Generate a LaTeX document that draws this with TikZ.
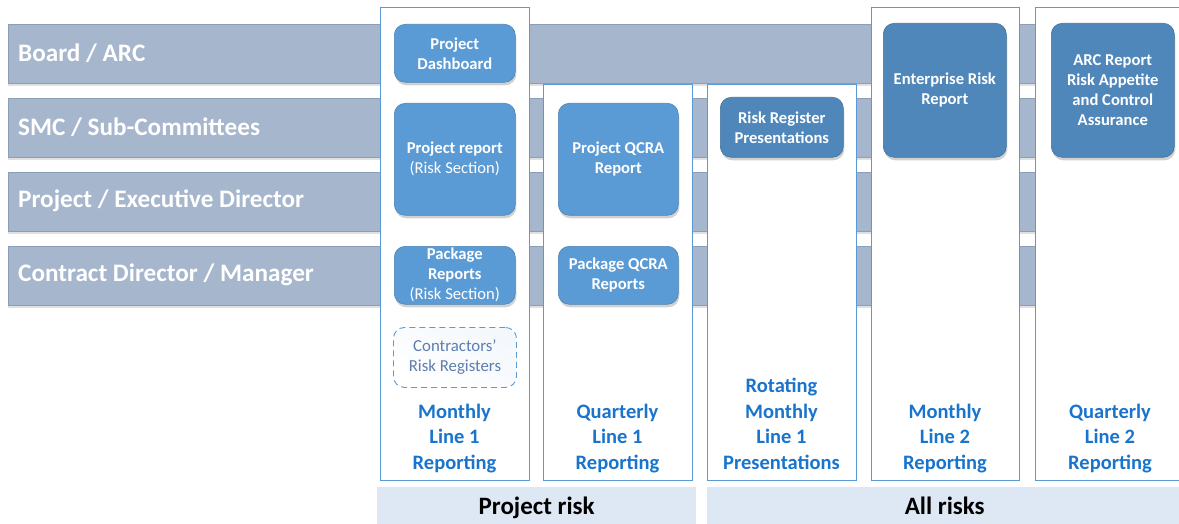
\documentclass[tikz,border=0pt]{standalone}
\usepackage{fontspec}
\setmainfont{Carlito}
\usetikzlibrary{shadows}
\definecolor{bandfill}{HTML}{A6B6CD}
\definecolor{bandline}{HTML}{8C9DB6}
\definecolor{laneline}{HTML}{5B9BD5}
\definecolor{boxlight}{HTML}{5B9BD5}
\definecolor{boxdark}{HTML}{4F87BA}
\definecolor{lanetext}{HTML}{1874CD}
\definecolor{footfill}{HTML}{DEE8F4}
\definecolor{contrtext}{HTML}{5C7DB0}

\begin{document}
\begin{tikzpicture}[
  x=1pt, y=-1pt,
  band/.style={draw=bandline, fill=bandfill, line width=0.8pt, anchor=north west, inner sep=0pt,
    minimum width=1172pt, minimum height=59pt,
    drop shadow={shadow xshift=0pt, shadow yshift=-3pt, opacity=0.12, fill=black}},
  rowlabel/.style={anchor=west, text=white, font=\fontsize{25.2}{29}\selectfont\bfseries, inner sep=0pt},
  lane/.style={draw=laneline, fill=white, line width=1pt, anchor=north west, inner sep=0pt},
  report/.style={fill=#1, draw=#1!85!black, line width=0.6pt, rounded corners=11pt, anchor=north west,
    inner sep=0pt, align=center, text=white, font=\fontsize{16.6}{20}\selectfont\bfseries,
    drop shadow={shadow xshift=1pt, shadow yshift=-3pt, opacity=0.18, fill=black}},
  register/.style={draw=laneline, dashed, dash pattern=on 6pt off 4pt, line width=0.9pt,
    top color=laneline!7, bottom color=white, shading angle=-30,
    rounded corners=11pt, anchor=north west, inner sep=0pt, align=center, text=contrtext,
    font=\fontsize{16.8}{20}\selectfont},
  lanelabel/.style={anchor=south, inner sep=0pt, align=center, text=lanetext,
    font=\fontsize{20.5}{25.5}\selectfont\bfseries},
  footer/.style={fill=footfill, anchor=north west, inner sep=0pt, text height=17pt, text depth=5pt,
    font=\fontsize{25}{29}\selectfont\bfseries}
]
\useasboundingbox (0,0) rectangle (1179,524);
\clip (0,0) rectangle (1179,524);

% management levels
\node[band] (board) at (8,24) {};
\node[band] (smc) at (8,98) {};
\node[band] (exec) at (8,172) {};
\node[band] (contract) at (8,246) {};
\node[rowlabel] at ([xshift=10pt,yshift=1pt]board.west) {Board / ARC};
\node[rowlabel] at ([xshift=10pt,yshift=1pt]smc.west) {SMC / Sub-Committees};
\node[rowlabel] at ([xshift=10pt,yshift=1pt]exec.west) {Project / Executive Director};
\node[rowlabel] at ([xshift=10pt,yshift=1pt]contract.west) {Contract Director / Manager};

% reporting lanes
\node[lane, minimum width=149pt, minimum height=473pt] (monthly1) at (380,7) {};
\node[lane, minimum width=149pt, minimum height=396pt] (quarterly1) at (543,84) {};
\node[lane, minimum width=149pt, minimum height=396pt] (rotating) at (707,84) {};
\node[lane, minimum width=148pt, minimum height=473pt] (monthly2) at (871,7) {};
\node[lane, minimum width=160pt, minimum height=473pt] (quarterly2) at (1035,7) {};

% reports
\node[report=boxlight, minimum width=121pt, minimum height=58pt] (dashboard) at (394,24) {Project\\Dashboard};
\node[report=boxlight, minimum width=121pt, minimum height=112pt] (projreport) at (394,103)
  {Project report\\{\mdseries(Risk Section)}};
\node[report=boxlight, minimum width=121pt, minimum height=58pt] (pkgreport) at (394,246)
  {Package\\Reports\\{\mdseries(Risk Section)}};
\node[register, minimum width=123pt, minimum height=60pt] (contractors) at (393,327)
  {Contractors’\\Risk Registers};
\node[report=boxlight, minimum width=120pt, minimum height=112pt] (projqcra) at (558,103)
  {Project QCRA\\Report};
\node[report=boxlight, minimum width=120pt, minimum height=58pt] (pkgqcra) at (558,246)
  {Package QCRA\\Reports};
\node[report=boxdark, minimum width=123pt, minimum height=60pt] (regpres) at (720,97)
  {Risk Register\\Presentations};
\node[report=boxdark, minimum width=123pt, minimum height=134pt] (enterprise) at (883,23)
  {Enterprise Risk\\Report};
\node[report=boxdark, minimum width=123pt, minimum height=134pt] (arcreport) at (1051,23)
  {ARC Report\\Risk Appetite\\and Control\\Assurance};

% lane captions
\node[lanelabel] at (454.5,477) {Monthly\\Line 1\\Reporting\strut};
\node[lanelabel] at (617.5,477) {Quarterly\\Line 1\\Reporting\strut};
\node[lanelabel] at (781.5,477) {Rotating\\Monthly\\Line 1\\Presentations\strut};
\node[lanelabel] at (945,477) {Monthly\\Line 2\\Reporting\strut};
\node[lanelabel] at (1110,477) {Quarterly\\Line 2\\Reporting\strut};

% risk scope
\node[footer, minimum width=319pt, minimum height=43pt] (projectrisk) at (377,487) {Project risk};
\node[footer, minimum width=475pt, minimum height=43pt] (allrisks) at (707,487) {All risks};

\end{tikzpicture}
\end{document}
